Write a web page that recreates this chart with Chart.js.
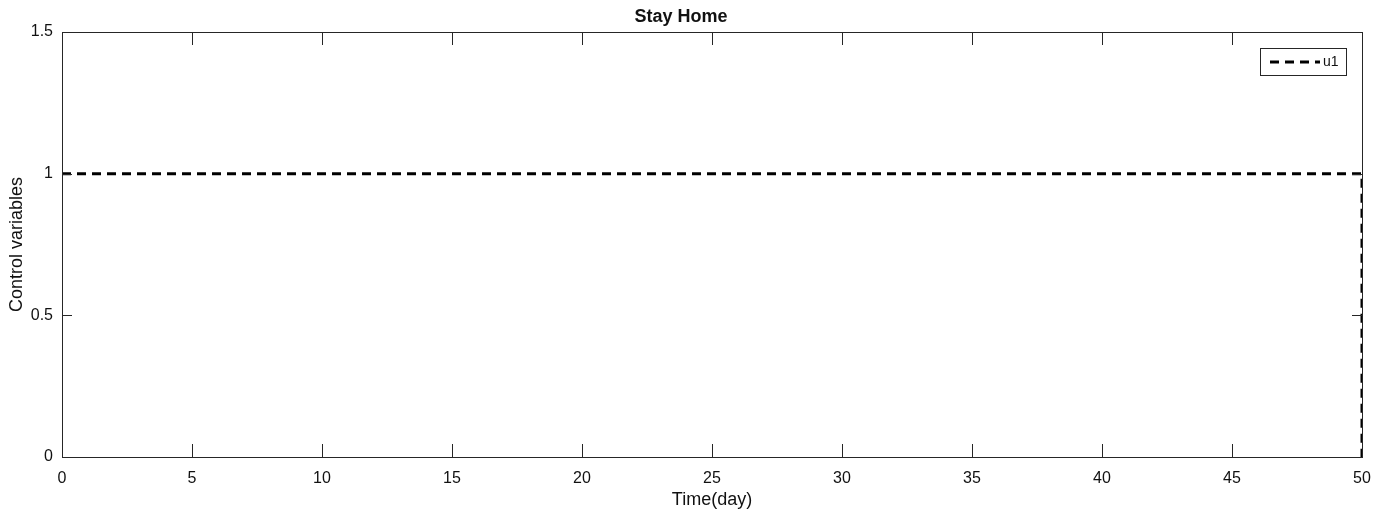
<!DOCTYPE html>
<html>
<head>
<meta charset="utf-8">
<script src="https://cdn.jsdelivr.net/npm/chart.js@4/dist/chart.umd.min.js"></script>
<style>
  html, body { margin: 0; padding: 0; background: #fff; }
  #wrap { width: 1388px; height: 519px; }
</style>
</head>
<body>
<div id="wrap"><canvas id="chart" width="1388" height="519"></canvas></div>
<script>
// datos
const timeDays = [0, 50, 50];
const u1Values = [1, 1, 0];
const seriesLabel = "u1";
const yTicks = [0, 0.5, 1, 1.5];
const xTicks = [0, 5, 10, 15, 20, 25, 30, 35, 40, 45, 50];

const AXIS_COLOR = "#262626";
const FONT = "Liberation Sans, Arial, sans-serif";

// caja estilo MATLAB con marcas hacia dentro
const boxPlugin = {
  id: "boxPlugin",
  afterDatasetsDraw(chart) {
    const { ctx, chartArea: a, scales } = chart;
    ctx.save();
    ctx.strokeStyle = AXIS_COLOR;
    ctx.lineWidth = 1;
    ctx.strokeRect(a.left + 0.5, a.top + 0.5, a.right - a.left, a.bottom - a.top);
    ctx.beginPath();
    scales.x.ticks.forEach(t => {
      const px = Math.round(scales.x.getPixelForValue(t.value)) + 0.5;
      ctx.moveTo(px, a.bottom); ctx.lineTo(px, a.bottom - 13);
      ctx.moveTo(px, a.top); ctx.lineTo(px, a.top + 13);
    });
    scales.y.ticks.forEach(t => {
      const py = Math.round(scales.y.getPixelForValue(t.value)) + 0.5;
      ctx.moveTo(a.left, py); ctx.lineTo(a.left + 10, py);
      ctx.moveTo(a.right, py); ctx.lineTo(a.right - 10, py);
    });
    ctx.stroke();
    ctx.restore();
  },
  afterDraw(chart) {
    // leyenda dentro del área, arriba a la derecha
    const { ctx, chartArea: a } = chart;
    const ds = chart.data.datasets[0];
    const w = 86, h = 27;
    const x0 = a.right - 16 - w, y0 = a.top + 16;
    ctx.save();
    ctx.fillStyle = "#fff";
    ctx.fillRect(x0, y0, w, h);
    ctx.strokeStyle = AXIS_COLOR;
    ctx.lineWidth = 1;
    ctx.strokeRect(x0 + 0.5, y0 + 0.5, w, h);
    ctx.strokeStyle = ds.borderColor;
    ctx.lineWidth = ds.borderWidth;
    ctx.setLineDash(ds.borderDash);
    ctx.beginPath();
    ctx.moveTo(x0 + 10, y0 + h / 2 + 0.5);
    ctx.lineTo(x0 + 60, y0 + h / 2 + 0.5);
    ctx.stroke();
    ctx.setLineDash([]);
    ctx.fillStyle = "#111";
    ctx.font = "14px " + FONT;
    ctx.textBaseline = "middle";
    ctx.fillText(ds.label, x0 + 63, y0 + h / 2 + 1);
    ctx.restore();
  }
};

new Chart(document.getElementById("chart"), {
  type: "line",
  data: {
    datasets: [{
      label: seriesLabel,
      data: timeDays.map((t, i) => ({ x: t, y: u1Values[i] })),
      borderColor: "#000",
      borderWidth: 3,
      borderDash: [9, 6],
      pointRadius: 0,
      tension: 0,
      fill: false
    }]
  },
  options: {
    responsive: false,
    animation: false,
    layout: { padding: { left: 0, right: 26, top: 0, bottom: 0 } },
    plugins: {
      legend: { display: false },
      tooltip: { enabled: false },
      title: {
        display: true,
        text: "Stay Home",
        color: "#111",
        font: { family: FONT, size: 18, weight: "bold" },
        padding: { top: 6, bottom: 4.4 }
      }
    },
    scales: {
      x: {
        type: "linear",
        min: 0,
        max: 50,
        afterBuildTicks: s => { s.ticks = xTicks.map(v => ({ value: v })); },
        afterFit: s => { s.height = 62; },
        grid: { display: false, drawTicks: false, tickLength: 0 },
        border: { display: false },
        ticks: {
          color: "#111", padding: 12, maxRotation: 0,
          font: { family: FONT, size: 16 },
          callback: v => String(v)
        },
        title: {
          display: true,
          text: "Time(day)",
          color: "#111",
          font: { family: FONT, size: 18 },
          padding: { top: 0, bottom: 8 }
        }
      },
      y: {
        min: 0,
        max: 1.5,
        afterBuildTicks: s => { s.ticks = yTicks.map(v => ({ value: v })); },
        afterFit: s => { s.width = 62; },
        grid: { display: false, drawTicks: false, tickLength: 0 },
        border: { display: false },
        ticks: {
          color: "#111", padding: 9,
          font: { family: FONT, size: 16 },
          callback: v => String(v)
        },
        title: {
          display: true,
          text: "Control variables",
          color: "#111",
          font: { family: FONT, size: 18 },
          padding: { top: 6, bottom: 0 }
        }
      }
    }
  },
  plugins: [boxPlugin]
});
</script>
</body>
</html>
